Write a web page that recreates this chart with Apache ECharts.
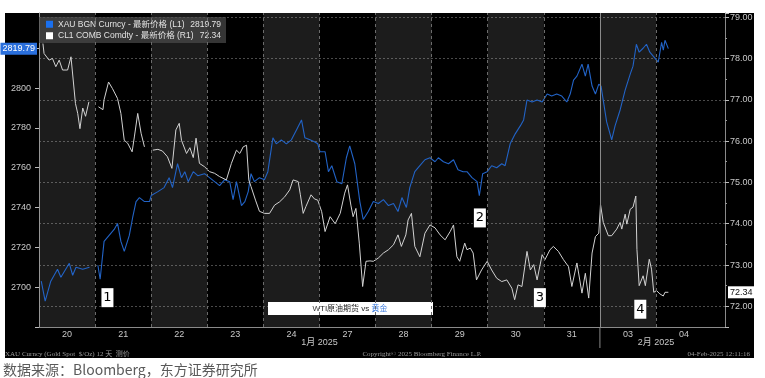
<!DOCTYPE html>
<html>
<head>
<meta charset="utf-8">
<script src="https://cdn.jsdelivr.net/npm/echarts@6/dist/echarts.min.js"></script>
<style>
  html, body { margin: 0; padding: 0; background: #fff; }
  #chart { width: 765px; height: 378px; }
</style>
</head>
<body>
<div id="chart"></div>
<script>
// Trading days shown on the x axis (one unit = one trading day)
const dayLabels = ["20", "21", "22", "23", "24", "27", "28", "29", "30", "31", "03", "04"];
const monthLabels = ["1月 2025", "2月 2025"];
const monthCenters = [5, 11];
const monthBreak = 10;

const goldName = "XAU BGN Curncy - 最新价格 (L1)";
const oilName = "CL1 COMB Comdty - 最新价格 (R1)";
const goldLast = 2819.79;
const oilLast = 72.34;

// Gold spot (left axis), time in trading days, null = market gap
const goldT = [
  0.04, 0.11, 0.21, 0.33, 0.39, 0.54, 0.60, 0.66, 0.78, 0.90, 0.97,
  1.05, 1.09, 1.16, 1.22, 1.28, 1.34, 1.40, 1.46, 1.52, 1.61, 1.67, 1.73, 1.79, 1.88, 1.97,
  2.00, 2.12, 2.23, 2.32, 2.38, 2.47, 2.54, 2.60, 2.66, 2.75, 2.83, 2.95,
  3.04, 3.13, 3.22, 3.31, 3.40, 3.46, 3.52, 3.61, 3.67, 3.73, 3.78, 3.84, 3.93,
  4.02, 4.08, 4.17, 4.23, 4.32, 4.41, 4.50, 4.59, 4.68, 4.74, 4.83, 4.91, 4.97,
  5.01, 5.10, 5.16, 5.22, 5.31, 5.40, 5.48, 5.54, 5.63, 5.72, 5.78, 5.87, 5.96,
  6.05, 6.14, 6.23, 6.32, 6.40, 6.47, 6.55, 6.61, 6.70, 6.79, 6.88, 6.97,
  7.06, 7.12, 7.21, 7.30, 7.39, 7.47, 7.56, 7.63, 7.72, 7.81, 7.85, 7.91, 7.99,
  8.07, 8.16, 8.25, 8.31, 8.40, 8.49, 8.58, 8.64, 8.70, 8.79, 8.88, 8.97,
  9.06, 9.14, 9.23, 9.32, 9.41, 9.47, 9.53, 9.59, 9.68, 9.74, 9.79, 9.86, 9.92, 9.98,
  10.02, 10.12, 10.21, 10.27, 10.36, 10.45, 10.54, 10.59, 10.65, 10.70, 10.77, 10.83, 10.89, 10.98,
  11.04, 11.10, 11.13, 11.16, 11.22
];
const goldV = [
  2703, 2693, 2703, 2709, 2705, 2712, 2706, 2710, 2709, 2710, null,
  2711, 2704, 2723, 2725, 2727, 2729, 2732, 2723, 2718, 2726, 2735, 2743, 2745, 2743, 2743,
  2746, 2748, 2750, 2755, 2750, 2762, 2755, 2758, 2753, 2758, 2756, 2757,
  2755, 2753, 2751, 2754, 2753, 2744, 2753, 2741, 2743, 2748, 2757, 2753, 2755,
  2754, 2758, 2775, 2772, 2774, 2772, 2774, 2779, 2784, 2775, 2774, 2773, 2772,
  2768, 2768, 2758, 2761, 2753, 2752, 2765, 2771, 2762, 2743, 2734, 2738, 2743,
  2742, 2744, 2741, 2742, 2738, 2745, 2740, 2750, 2758, 2761, 2764, 2765,
  2763, 2765, 2763, 2762, 2764, 2759, 2758, 2758, 2755, 2753, 2746, 2757, 2758,
  2761, 2760, 2762, 2761, 2772, 2777, 2781, 2784, 2794, 2793, 2794, 2793,
  2797, 2796, 2797, 2796, 2793, 2797, 2804, 2806, 2812, 2806, 2812, 2801, 2797, 2802,
  2801, 2783, 2774, 2781, 2789, 2799, 2807, 2811, 2822, 2818, 2820, 2822, 2818, 2815,
  2813, 2823, 2819, 2824, 2819.79
];

// WTI crude front month (right axis)
const oilT = [
  0.07, 0.09, 0.18, 0.24, 0.30, 0.36, 0.42, 0.51, 0.57, 0.60, 0.65, 0.69, 0.73, 0.78, 0.83, 0.89, 0.97,
  1.06, 1.14, 1.16, 1.24, 1.31, 1.40, 1.46, 1.52, 1.58, 1.66, 1.70, 1.76, 1.82, 1.88, 1.95,
  2.03, 2.12, 2.20, 2.29, 2.37, 2.44, 2.50, 2.54, 2.63, 2.69, 2.75, 2.80, 2.86, 2.95,
  3.04, 3.13, 3.22, 3.34, 3.43, 3.52, 3.58, 3.64, 3.70, 3.74, 3.78, 3.86, 3.93,
  4.02, 4.11, 4.20, 4.29, 4.38, 4.47, 4.53, 4.62, 4.66, 4.71, 4.76, 4.85, 4.91, 4.97,
  5.04, 5.10, 5.19, 5.28, 5.37, 5.45, 5.50, 5.56, 5.60, 5.65, 5.71, 5.77, 5.83, 5.90, 5.96,
  6.05, 6.14, 6.23, 6.32, 6.40, 6.46, 6.54, 6.58, 6.64, 6.70, 6.79, 6.88, 6.97,
  7.06, 7.15, 7.24, 7.33, 7.39, 7.45, 7.50, 7.59, 7.63, 7.69, 7.74, 7.80, 7.89, 7.99,
  8.07, 8.16, 8.25, 8.34, 8.43, 8.48, 8.54, 8.61, 8.70, 8.76, 8.82, 8.88, 8.97,
  9.02, 9.11, 9.17, 9.26, 9.35, 9.44, 9.50, 9.59, 9.68, 9.74, 9.80, 9.86, 9.92, 9.98,
  10.01, 10.06, 10.15, 10.21, 10.30, 10.36, 10.39, 10.45, 10.48, 10.54, 10.59, 10.64, 10.66, 10.70, 10.77, 10.81, 10.88, 10.92, 10.96,
  11.01, 11.07, 11.13, 11.16, 11.22
];
const oilV = [
  78.36, 78.12, 77.96, 78.0, 77.8, 77.96, 77.72, 77.72, 78.04, 78.08, 76.91, 76.67, 76.3, 76.8, 76.6, 76.95, null,
  76.83, 76.76, 77.0, 77.43, 77.27, 77.03, 76.67, 76.02, 75.95, 75.74, 76.1, 76.67, 76.19, 75.86, null,
  75.78, 75.8, 75.76, 75.62, 75.34, 76.27, 76.43, 76.02, 75.7, 75.84, 75.6, 76.07, 75.46, 75.38,
  75.26, 75.22, 75.14, 75.06, 75.46, 75.78, 75.7, 75.86, 75.9, 75.06, 74.9, 74.57, 74.3,
  74.25, 74.25, 74.45, 74.53, 74.65, 74.82, 75.06, 75.02, 74.7, 74.25, 74.42, 74.7, 74.6, 74.57,
  74.29, 73.81, 74.17, 74.0, 74.25, 74.74, 74.94, 74.45, 74.17, 74.37, 73.53, 72.48, 73.09, 73.1, 73.09,
  73.17, 73.29, 73.37, 73.49, 73.73, 73.45, 73.73, 74.09, 74.25, 73.45, 73.2, 73.77, 73.97,
  73.9, 73.73, 73.61, 73.81, 73.97, 73.2, 73.09, 73.53, 73.37, 73.41, 73.29, 72.64, 72.88, 73.09,
  72.88, 72.68, 72.6, 72.64, 72.44, 72.16, 72.52, 72.48, 73.33, 72.88, 73.01, 72.64, 73.25,
  73.13, 73.37, 73.45, 73.33, 73.13, 72.96, 72.48, 73.05, 72.32, 72.8, 72.2, 73.29, 73.69, 73.77,
  74.47, 74.03, 73.71, 73.71, 73.87, 74.03, 73.87, 74.23, 73.99, 74.35, 74.4, 74.67, 73.38, 72.5, 72.74, 72.5, 73.14, 72.9, 72.34,
  72.38, 72.3, 72.25, 72.34, 72.34
];

// Numbered callouts (placed in right-axis units)
const noteLabels = ["1", "2", "3", "4"];
const noteT = [1.22, 7.86, 8.93, 10.72];
const noteV = [72.21, 74.14, 72.21, 71.93];

const FONT = "'Liberation Sans', 'Noto Sans CJK SC', sans-serif";
const AXIS_TEXT = "#c8c8c8";
const GOLD_LINE = "#2263c6";
const GOLD_ICON = "#1a70f0";
const OIL_LINE = "#d2d2d2";

const toPairs = (ts, vs) => ts.map((t, i) => [t, vs[i] === null ? "-" : vs[i]]);

const chart = echarts.init(document.getElementById("chart"));

const option = {
  animation: false,
  backgroundColor: "#fff",
  textStyle: { fontFamily: FONT },

  grid: { left: 39, right: 40, top: 13, bottom: 51 },

  legend: {
    orient: "vertical",
    left: 39,
    top: 17,
    icon: "rect",
    itemWidth: 7,
    itemHeight: 7,
    itemGap: 3,
    padding: [3, 5, 3, 7],
    backgroundColor: "rgba(75, 75, 75, 0.7)",
    data: [
      { name: goldName, itemStyle: { color: GOLD_ICON } },
      { name: oilName, itemStyle: { color: "#fff" } },
    ],
    formatter: (name) =>
      `{n|${name}}{v|${(name === goldName ? goldLast : oilLast).toFixed(2)}}`,
    textStyle: {
      color: "#e2e2e2",
      fontSize: 8.5,
      fontFamily: FONT,
      rich: {
        n: { width: 133, fontSize: 8.5, color: "#e2e2e2", fontFamily: FONT },
        v: { width: 30, align: "right", fontSize: 8.5, color: "#e2e2e2", fontFamily: FONT },
      },
    },
  },

  xAxis: {
    type: "value",
    min: 0,
    max: 12.23,
    interval: 0.5,
    axisLine: { show: true, lineStyle: { color: "#8a8a8a" } },
    axisTick: { show: false },
    splitLine: { show: false },
    axisLabel: {
      color: AXIS_TEXT,
      fontSize: 9,
      margin: 3,
      showMaxLabel: false,
      formatter: (v) => {
        const d = v - 0.5;
        if (Math.abs(d - Math.round(d)) < 1e-6) return dayLabels[Math.round(d)] || "";
        return "";
      },
    },
  },

  yAxis: [
    {
      type: "value",
      position: "left",
      min: 2680,
      max: 2837.7,
      interval: 20,
      axisLine: { show: true, lineStyle: { color: "#8a8a8a" } },
      axisTick: { show: true, length: 4, lineStyle: { color: "#bbb" } },
      splitLine: { show: false },
      axisLabel: {
        color: AXIS_TEXT,
        fontSize: 9,
        margin: 8,
        showMaxLabel: false,
        formatter: (v) => (v > 2680 && v < 2820 ? String(v) : ""),
      },
    },
    {
      type: "value",
      position: "right",
      min: 71.5,
      max: 79.1,
      splitNumber: 7,
      axisLine: { show: true, lineStyle: { color: "#8a8a8a" } },
      axisTick: { show: true, length: 4, lineStyle: { color: "#bbb" } },
      minorTick: { show: true, splitNumber: 2, length: 2, lineStyle: { color: "#999" } },
      splitLine: {
        show: true,
        showMinLine: false,
        showMaxLine: false,
        lineStyle: { color: "#4a4a4a", type: [2, 2], width: 1 },
      },
      axisLabel: {
        color: AXIS_TEXT,
        fontSize: 9,
        margin: 5,
        showMinLabel: false,
        showMaxLabel: false,
        formatter: (v) => (Math.abs(v - Math.round(v)) < 1e-6 ? v.toFixed(2) : ""),
      },
    },
  ],

  series: [
    // day bands and day dividers
    {
      type: "line",
      data: [],
      silent: true,
      markArea: {
        silent: true,
        itemStyle: { color: "rgba(255, 255, 255, 0.11)" },
        data: dayLabels
          .map((_, i) => i)
          .filter((i) => i % 2 === 0)
          .map((i) => [{ xAxis: i }, { xAxis: i + 1 }]),
      },
      markLine: {
        silent: true,
        symbol: "none",
        label: { show: false },
        lineStyle: { color: "#6b6b6b", type: [3, 3], width: 1 },
        data: dayLabels.slice(1).map((_, k) => {
          const i = k + 1;
          return i === monthBreak
            ? { xAxis: i, lineStyle: { type: "solid", color: "#8a8a8a", width: 1 } }
            : { xAxis: i };
        }),
      },
    },
    {
      name: goldName,
      type: "line",
      yAxisIndex: 0,
      data: toPairs(goldT, goldV),
      showSymbol: false,
      symbol: "none",
      itemStyle: { color: GOLD_ICON },
      lineStyle: { color: GOLD_LINE, width: 1.1 },
      markLine: {
        silent: true,
        symbol: "none",
        lineStyle: { color: "rgba(0,0,0,0)", width: 0 },
        label: {
          show: true,
          position: "start",
          distance: 2,
          formatter: goldLast.toFixed(2),
          color: "#fff",
          backgroundColor: "#2a6fdc",
          padding: [2, 2, 1, 2],
          fontSize: 9,
          fontFamily: FONT,
        },
        data: [{ yAxis: goldLast }],
      },
    },
    {
      name: oilName,
      type: "line",
      yAxisIndex: 1,
      data: toPairs(oilT, oilV),
      showSymbol: false,
      symbol: "none",
      itemStyle: { color: "#fff" },
      lineStyle: { color: OIL_LINE, width: 1 },
      markLine: {
        silent: true,
        symbol: "none",
        lineStyle: { color: "rgba(0,0,0,0)", width: 0 },
        label: {
          show: true,
          position: "end",
          distance: 3,
          formatter: oilLast.toFixed(2),
          color: "#111",
          backgroundColor: "#fff",
          padding: [2, 2, 1, 2],
          fontSize: 9,
          fontFamily: FONT,
        },
        data: [{ yAxis: oilLast }],
      },
      markPoint: {
        silent: true,
        symbol: "rect",
        symbolSize: [12, 19],
        itemStyle: { color: "#fff" },
        label: {
          show: true,
          position: "inside",
          formatter: "{b}",
          color: "#000",
          fontSize: 13,
          fontFamily: "'DejaVu Sans', sans-serif",
        },
        data: noteLabels.map((name, i) => ({ name, coord: [noteT[i], noteV[i]] })),
      },
    },
  ],
};

chart.setOption(option);

// frame, footer and captions
const gridBottom = chart.getHeight() - 51;
const graphics = [
  {
    type: "rect",
    z: -10,
    silent: true,
    shape: { x: 5, y: 13, width: 749, height: 345 },
    style: { fill: "#000" },
  },
  {
    type: "line",
    silent: true,
    shape: {
      x1: chart.convertToPixel({ xAxisIndex: 0 }, monthBreak),
      y1: gridBottom,
      x2: chart.convertToPixel({ xAxisIndex: 0 }, monthBreak),
      y2: gridBottom + 21,
    },
    style: { stroke: "#8a8a8a", lineWidth: 1 },
  },
  ...monthLabels.map((text, i) => ({
    type: "text",
    silent: true,
    x: chart.convertToPixel({ xAxisIndex: 0 }, monthCenters[i]),
    y: gridBottom + 16,
    style: {
      text,
      fill: AXIS_TEXT,
      font: `9px ${FONT}`,
      align: "center",
      verticalAlign: "middle",
    },
  })),
  {
    type: "text",
    silent: true,
    x: 5,
    y: 354,
    style: {
      text: "XAU Curncy (Gold Spot  $/Oz) 12 天  测价",
      fill: "#9a9a9a",
      font: "7px 'Liberation Serif', 'Noto Sans CJK SC', serif",
      verticalAlign: "middle",
    },
  },
  {
    type: "text",
    silent: true,
    x: 422,
    y: 354,
    style: {
      text: "Copyright© 2025 Bloomberg Finance L.P.",
      fill: "#9a9a9a",
      font: "7px 'Liberation Serif', serif",
      align: "center",
      verticalAlign: "middle",
    },
  },
  {
    type: "text",
    silent: true,
    x: 750,
    y: 354,
    style: {
      text: "04-Feb-2025 12:11:16",
      fill: "#9a9a9a",
      font: "7px 'Liberation Serif', serif",
      align: "right",
      verticalAlign: "middle",
    },
  },
  {
    type: "group",
    silent: true,
    children: [
      {
        type: "rect",
        shape: { x: 268, y: 302, width: 165, height: 13 },
        style: { fill: "#fff" },
      },
      {
        type: "text",
        x: 350,
        y: 308.5,
        style: {
          text: "{a|WTI原油期货 vs }{b|黄金}",
          align: "center",
          verticalAlign: "middle",
          rich: {
            a: { fill: "#222", font: `8px ${FONT}` },
            b: { fill: "#2a6fdc", font: `8px ${FONT}` },
          },
        },
      },
    ],
  },
  {
    type: "text",
    silent: true,
    x: 3,
    y: 370,
    style: {
      text: "数据来源：Bloomberg，东方证券研究所",
      fill: "#5a5a5a",
      font: "14px 'Noto Sans CJK SC', sans-serif",
      verticalAlign: "middle",
    },
  },
];

chart.setOption({ graphic: graphics });
</script>
</body>
</html>
